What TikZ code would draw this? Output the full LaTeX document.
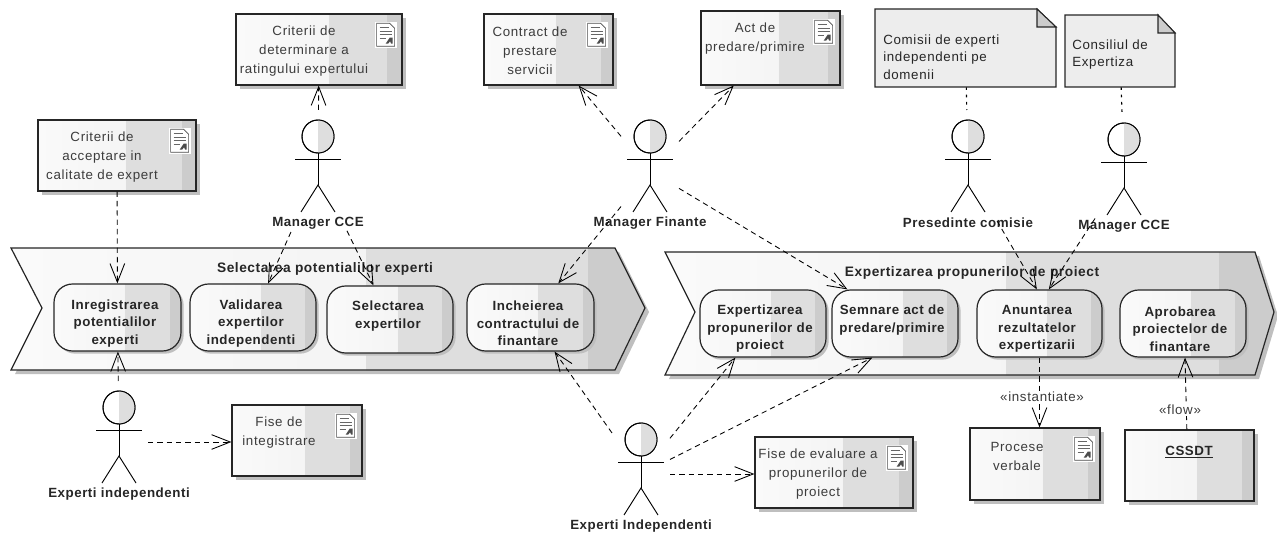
\documentclass[tikz,border=0pt]{standalone}
\usepackage{fontspec}
\setmainfont{Liberation Sans}
\newfontfamily\docfont[LetterSpace=5]{Liberation Sans}
\newfontfamily\boldfont[LetterSpace=4]{Liberation Sans}
\usetikzlibrary{arrows.meta,calc,shadows}

\definecolor{bandlight}{HTML}{FAFAFA}
\definecolor{bandmid}{HTML}{F0F0F0}
\definecolor{bandgray}{HTML}{DEDEDE}
\definecolor{banddark}{HTML}{CCCCCC}
\definecolor{notegray}{HTML}{EDEDED}
\definecolor{doctext}{HTML}{3C3C3C}

\tikzset{
    pxsize/.style 2 args={minimum width=#1*0.75pt, minimum height=#2*0.75pt},
    bandfill/.style={
        path picture={
            \shade[sharp corners, left color=bandlight, right color=bandmid]
                (path picture bounding box.south west) rectangle
                ($(path picture bounding box.north west)!0.56!(path picture bounding box.north east)$);
            \fill[sharp corners, bandgray]
                ($(path picture bounding box.south west)!0.56!(path picture bounding box.south east)$) rectangle
                ($(path picture bounding box.north west)!0.91!(path picture bounding box.north east)$);
            \fill[sharp corners, banddark]
                ($(path picture bounding box.south west)!0.91!(path picture bounding box.south east)$) rectangle
                (path picture bounding box.north east);
        }},
    softshadow/.style={drop shadow={shadow xshift=3pt, shadow yshift=-3pt, fill=gray!50, opacity=1}},
    docbox/.style={draw=black!85, line width=0.9pt, inner sep=0pt, bandfill, softshadow},
    procbox/.style={draw=black!85, line width=0.9pt, inner sep=0pt, rounded corners=14pt, bandfill,
        drop shadow={shadow xshift=2pt, shadow yshift=-2pt, fill=gray!50, opacity=1}},
    chevron/.style={draw=black!85, line width=0.9pt, bandfill, softshadow},
    doctitle/.style={font=\docfont\fontsize{10}{14.25}\selectfont, text=doctext, align=center, inner sep=0pt},
    proctext/.style={font=\boldfont\bfseries\fontsize{10}{13.1}\selectfont, text=black!85, align=center, inner sep=0pt},
    chevtitle/.style={font=\boldfont\bfseries\fontsize{10.3}{12}\selectfont, text=black!85, inner sep=0pt},
    notebox/.style={inner sep=0pt},
    notetext/.style={font=\docfont\fontsize{10}{13.2}\selectfont, text=black!85, align=left, anchor=west, inner sep=0pt},
    actorbox/.style={minimum width=58*0.75pt, minimum height=122*0.75pt, inner sep=0pt, outer sep=0pt},
    actorname/.style={font=\boldfont\bfseries\fontsize{10}{12}\selectfont, text=black!85, inner sep=0pt},
    flowname/.style={font=\docfont\fontsize{10}{12}\selectfont, text=doctext, fill=white, inner sep=1pt},
    depline/.style={line width=0.65pt, dash pattern=on 4pt off 3pt, -{Straight Barb[length=14pt,width=11pt]}},
    noteline/.style={line width=0.8pt, dash pattern=on 2pt off 3.5pt},
}

% stick figure with a hidden box, connectors stop on the box
\newcommand{\actor}[4]{
    \node[actorbox] (#1) at (#2,#3) {};
    \begin{scope}[shift={(#1)}, line width=0.7pt]
        \draw[fill=white] (0,-34.5) ellipse [x radius=16, y radius=16.5];
        \begin{scope}
            \clip (0,-34.5) ellipse [x radius=16, y radius=16.5];
            \fill[bandgray] (0,-52) rectangle (17,-17);
        \end{scope}
        \draw (0,-34.5) ellipse [x radius=16, y radius=16.5];
        \draw (-23,-12) -- (23,-12);
        \draw (0,-18) -- (0,14);
        \draw (-17,41) -- (0,14) -- (17,41);
    \end{scope}
    \node[actorname] (#1L) at (#2,#3+52) {#4};
}

% small page icon in the corner of a document box
\newcommand{\docicon}[1]{
    \begin{scope}[shift={([xshift=-12.75pt,yshift=-16pt]#1.north east)}, line width=0.5pt]
        \fill[white] (-11,-13) rectangle (11,13);
        \draw[black!70] (-9,-11.5) -- (4,-11.5) -- (9,-6.5) -- (9,11.5) -- (-9,11.5) -- cycle;
        \draw[black!60] (-6,-7) -- (3,-7) (-6,-3.5) -- (6,-3.5) (-6,0) -- (6,0) (-6,3.5) -- (0,3.5);
        \fill[black!70] (0,9) -- (4,3) -- (7,3) -- (7,9) -- (5.5,9) -- (4.5,6.5) -- (2.5,9) -- cycle;
    \end{scope}
}

\begin{document}
\begin{tikzpicture}[x=0.75pt, y=-0.75pt]
    \useasboundingbox (0,0) rectangle (1277,534);

    % process chevrons
    \draw[chevron] (11,248) -- (615,248) -- (645,308) -- (615,370) -- (11,370) -- (42,308) -- cycle;
    \node[chevtitle] (selTitle) at (325,269) {Selectarea potentialilor experti};
    \draw[chevron] (665,252) -- (1255,252) -- (1274,312) -- (1255,375) -- (665,375) -- (695,312) -- cycle;
    \node[chevtitle] (expTitle) at (972,273) {Expertizarea propunerilor de proiect};

    % activities, left
    \node[procbox, pxsize={127}{67}] (inreg) at (117.5,317.5) {};
    \node[proctext] (inregT) at (115,323.5) {Inregistrarea\\potentialilor\\experti};
    \node[procbox, pxsize={126}{67}] (valid) at (253,317.5) {};
    \node[proctext] (validT) at (251,323.5) {Validarea\\expertilor\\independenti};
    \node[procbox, pxsize={126}{67}] (selex) at (390,319.5) {};
    \node[proctext] (selexT) at (388,316) {Selectarea\\expertilor};
    \node[procbox, pxsize={127}{67}] (inch) at (530.5,317.5) {};
    \node[proctext] (inchT) at (528,323.5) {Incheierea\\contractului de\\finantare};

    % activities, right
    \node[procbox, pxsize={126}{67}] (exprop) at (763,323.5) {};
    \node[proctext] (expropT) at (760,329) {Expertizarea\\propunerilor de\\proiect};
    \node[procbox, pxsize={126}{67}] (semn) at (895,323.5) {};
    \node[proctext] (semnT) at (892,320) {Semnare act de\\predare/primire};
    \node[procbox, pxsize={125}{67}] (anunt) at (1039.5,323.5) {};
    \node[proctext] (anuntT) at (1037,329) {Anuntarea\\rezultatelor\\expertizarii};
    \node[procbox, pxsize={126}{67}] (aprob) at (1183,323.5) {};
    \node[proctext] (aprobT) at (1180,329) {Aprobarea\\proiectelor de\\finantare};

    % documents
    \node[docbox, pxsize={166}{71}] (critRat) at (319,49.5) {};
    \node[doctitle] (critRatT) at (304,51) {Criterii de\\determinare a\\ratingului expertului};
    \docicon{critRat}
    \node[docbox, pxsize={158}{71}] (critAcc) at (117,155.5) {};
    \node[doctitle] (critAccT) at (102,157) {Criterii de\\acceptare in\\calitate de expert};
    \docicon{critAcc}
    \node[docbox, pxsize={129}{71}] (contr) at (548.5,49.5) {};
    \node[doctitle] (contrT) at (530,51) {Contract de\\prestare\\servicii};
    \docicon{contr}
    \node[docbox, pxsize={139}{74}] (act) at (770.5,48) {};
    \node[doctitle] (actT) at (755,38.5) {Act de\\predare/primire};
    \docicon{act}
    \node[docbox, pxsize={130}{71}] (fiseInt) at (297,440.5) {};
    \node[doctitle] (fiseIntT) at (279,433) {Fise de\\integistrare};
    \docicon{fiseInt}
    \node[docbox, pxsize={158}{71}] (fiseEval) at (834,472.5) {};
    \node[doctitle] (fiseEvalT) at (818,474) {Fise de evaluare a\\propunerilor de\\proiect};
    \docicon{fiseEval}
    \node[docbox, pxsize={130}{72}] (proces) at (1035,464) {};
    \node[doctitle] (procesT) at (1017,456) {Procese\\verbale};
    \docicon{proces}
    \node[docbox, pxsize={129}{71}] (cssdt) at (1189.5,465.5) {};
    \node[proctext] (cssdtT) at (1189,452) {\underline{CSSDT}};

    % notes
    \draw[line width=0.8pt, draw=black!85, fill=notegray] (875,9) -- (1037,9) -- (1056,27) -- (1056,87) -- (875,87) -- cycle;
    \draw[line width=0.8pt, draw=black!85, fill=banddark] (1037,9) -- (1037,27) -- (1056,27) -- cycle;
    \node[notebox, pxsize={181}{78}] (comisii) at (965.5,48) {};
    \node[notetext] (comisiiT) at (883,57) {Comisii de experti\\independenti pe\\domenii};
    \draw[line width=0.8pt, draw=black!85, fill=notegray] (1065,15) -- (1158,15) -- (1175,33) -- (1175,87) -- (1065,87) -- cycle;
    \draw[line width=0.8pt, draw=black!85, fill=banddark] (1158,15) -- (1158,33) -- (1175,33) -- cycle;
    \node[notebox, pxsize={110}{72}] (consil) at (1120,51) {};
    \node[notetext] (consilT) at (1072,54.5) {Consiliul de\\Expertiza};

    % actors
    \actor{cceLeft}{318}{171}{Manager CCE}
    \actor{finante}{650}{171}{Manager Finante}
    \actor{presed}{968}{171}{Presedinte comisie}
    \actor{cceRight}{1124}{174}{Manager CCE}
    \actor{expLeft}{119}{442}{Experti independenti}
    \actor{expRight}{641}{474}{Experti Independenti}

    % connectors
    \draw[depline] (critAcc) -- (inreg);
    \draw[depline] (cceLeft) -- (critRat);
    \draw[depline] (cceLeft) -- (valid);
    \draw[depline] (cceLeft) -- (selex);
    \draw[depline] (finante) -- (contr);
    \draw[depline] (finante) -- (act);
    \draw[depline] (finante) -- (inch);
    \draw[depline] (finante) -- ([xshift=12pt]semn.north west);
    \draw[depline] (presed) -- ([xshift=-2pt]anunt.north);
    \draw[depline] (cceRight) -- ([xshift=7pt]anunt.north);
    \draw[noteline] (comisii) -- (presed);
    \draw[noteline] (consil) -- (cceRight);
    \draw[depline] (expLeft) -- (inreg);
    \draw[depline] (expLeft) -- (expLeft -| fiseInt.west);
    \draw[depline] (expRight) -- (inch);
    \draw[depline] (expRight) -- (exprop);
    \draw[depline] (expRight) -- ([xshift=-17pt]semn.south);
    \draw[depline] (expRight) -- (expRight -| fiseEval.west);
    \draw[depline] (anunt.south) -- (anunt.south |- proces.north);
    \draw[depline] ([xshift=-2pt]cssdt.north) -- ([xshift=1.5pt]aprob.south);

    \node[flowname] (instLabel) at (1042,397) {«instantiate»};
    \node[flowname] (flowLabel) at (1180,410) {«flow»};
\end{tikzpicture}
\end{document}
